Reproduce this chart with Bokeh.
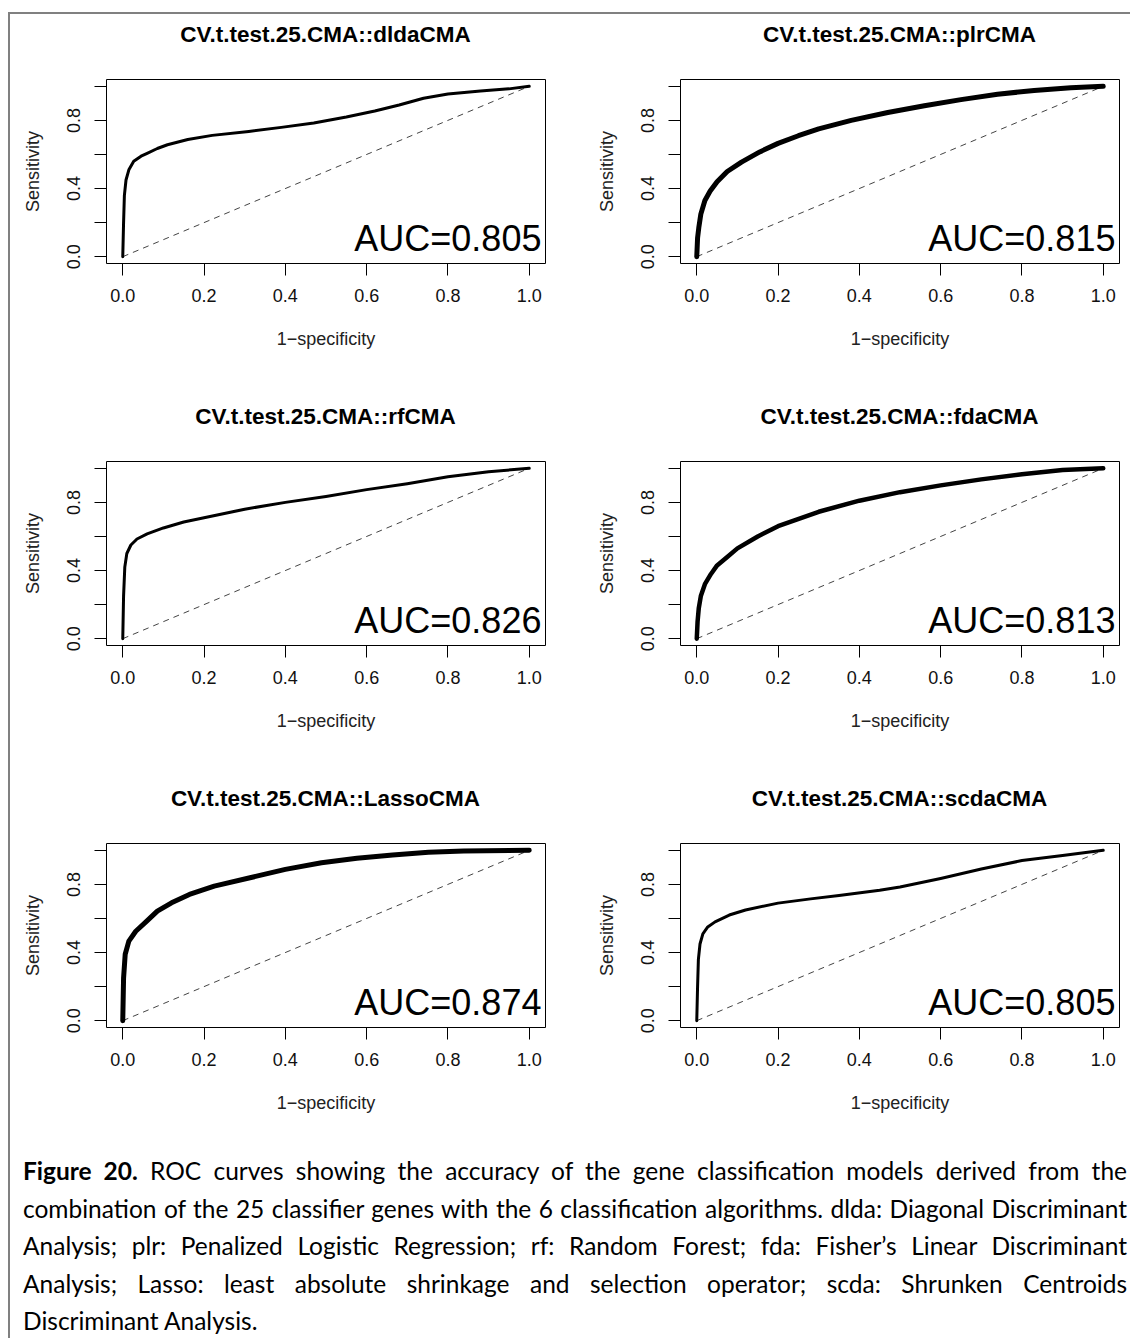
from bokeh.plotting import figure
from bokeh.models import Range1d, FixedTicker, Label, Div, Spacer
from bokeh.layouts import row, column
from bokeh.embed import file_html
from bokeh.resources import INLINE

# ---------------- data ----------------
TITLES = ["CV.t.test.25.CMA::dldaCMA", "CV.t.test.25.CMA::plrCMA",
          "CV.t.test.25.CMA::rfCMA", "CV.t.test.25.CMA::fdaCMA",
          "CV.t.test.25.CMA::LassoCMA", "CV.t.test.25.CMA::scdaCMA"]
AUC = ["AUC=0.805", "AUC=0.815", "AUC=0.826", "AUC=0.813", "AUC=0.874", "AUC=0.805"]

dlda_x = [0, 0.002, 0.004, 0.008, 0.015, 0.027, 0.045, 0.06, 0.085, 0.11, 0.16, 0.22,
          0.31, 0.39, 0.47, 0.55, 0.62, 0.68, 0.74, 0.80, 0.88, 0.95, 1.0]
dlda_y = [0, 0.20, 0.36, 0.45, 0.51, 0.56, 0.59, 0.607, 0.635, 0.657, 0.688, 0.712,
          0.735, 0.759, 0.785, 0.82, 0.855, 0.89, 0.93, 0.955, 0.972, 0.985, 1.0]

plr_x = [0, 0.002, 0.005, 0.01, 0.02, 0.033, 0.05, 0.075, 0.11, 0.155, 0.2, 0.25,
         0.3, 0.38, 0.47, 0.56, 0.65, 0.74, 0.83, 0.92, 1.0]
plr_y = [0, 0.11, 0.17, 0.25, 0.33, 0.385, 0.44, 0.50, 0.555, 0.615, 0.665, 0.71,
         0.75, 0.80, 0.846, 0.886, 0.922, 0.953, 0.976, 0.992, 1.0]

rf_x = [0, 0.002, 0.005, 0.01, 0.02, 0.035, 0.06, 0.1, 0.15, 0.2, 0.3, 0.4, 0.5,
        0.6, 0.7, 0.8, 0.9, 1.0]
rf_y = [0, 0.25, 0.42, 0.5, 0.55, 0.585, 0.615, 0.65, 0.685, 0.71, 0.76, 0.80, 0.835,
        0.875, 0.91, 0.95, 0.98, 1.0]

fda_x = [0, 0.002, 0.005, 0.01, 0.02, 0.035, 0.05, 0.075, 0.1, 0.15, 0.2, 0.3, 0.4,
         0.5, 0.6, 0.7, 0.8, 0.9, 1.0]
fda_y = [0, 0.1, 0.18, 0.25, 0.32, 0.38, 0.43, 0.48, 0.53, 0.6, 0.66, 0.745, 0.81,
         0.86, 0.9, 0.935, 0.965, 0.99, 1.0]

lasso_x = [0, 0.002, 0.006, 0.015, 0.032, 0.059, 0.085, 0.12, 0.164, 0.225, 0.313,
           0.40, 0.489, 0.576, 0.664, 0.752, 0.839, 1.0]
lasso_y = [0, 0.25, 0.39, 0.467, 0.525, 0.584, 0.643, 0.692, 0.741, 0.79, 0.839,
           0.888, 0.927, 0.953, 0.973, 0.988, 0.996, 1.0]

scda_x = [0, 0.002, 0.004, 0.008, 0.015, 0.027, 0.045, 0.08, 0.12, 0.2, 0.28, 0.35,
          0.45, 0.5, 0.6, 0.7, 0.8, 0.9, 1.0]
scda_y = [0, 0.20, 0.36, 0.45, 0.51, 0.55, 0.58, 0.62, 0.65, 0.69, 0.715, 0.735,
          0.765, 0.785, 0.835, 0.89, 0.94, 0.97, 1.0]

diag = [0, 1]

X_TICKS = [0.0, 0.2, 0.4, 0.6, 0.8, 1.0]
X_TICK_LABELS = ["0.0", "0.2", "0.4", "0.6", "0.8", "1.0"]
Y_TICKS = [0.0, 0.2, 0.4, 0.6, 0.8, 1.0]
Y_TICK_LABELS = ["0.0", "", "0.4", "", "0.8", ""]

XLABEL = "1\u2212specificity"
YLABEL = "Sensitivity"

CAPTION_LINES = [
    "<b>Figure 20.</b> ROC curves showing the accuracy of the gene classification models derived from the",
    "combination of the 25 classifier genes with the 6 classification algorithms. dlda: Diagonal Discriminant",
    "Analysis; plr: Penalized Logistic Regression; rf: Random Forest; fda: Fisher\u2019s Linear Discriminant",
    "Analysis; Lasso: least absolute shrinkage and selection operator; scda: Shrunken Centroids",
    "Discriminant Analysis.",
]

CURVES = [(dlda_x, dlda_y), (plr_x, plr_y), (rf_x, rf_y), (fda_x, fda_y),
          (lasso_x, lasso_y), (scda_x, scda_y)]
LINE_W = [3, 5, 3, 4.5, 5, 3]

FONT = "Liberation Sans"
TITLE_H = 42
FRAME_W = 439


def make_panel(i, width, left, right, height, bottom):
    p = figure(width=width, height=height - TITLE_H,
               x_range=Range1d(-0.04, 1.04), y_range=Range1d(-0.04, 1.04),
               output_backend="svg", toolbar_location=None,
               min_border_left=left, min_border_right=right,
               min_border_top=23, min_border_bottom=bottom)
    p.grid.visible = False
    p.outline_line_color = "black"
    p.outline_line_width = 1
    p.outline_line_alpha = 1
    p.background_fill_color = "white"
    p.border_fill_color = "white"

    for ax, ticks, labs in ((p.xaxis[0], X_TICKS, X_TICK_LABELS),
                            (p.yaxis[0], Y_TICKS, Y_TICK_LABELS)):
        ax.ticker = FixedTicker(ticks=ticks, minor_ticks=[])
        ax.major_label_overrides = dict(zip(ticks, labs))
        ax.major_tick_out = 12
        ax.major_tick_in = 0
        ax.major_tick_line_color = "black"
        ax.axis_line_color = None
        ax.major_label_text_font = FONT
        ax.major_label_text_font_size = "18px"
        ax.major_label_text_color = "#111111"
        ax.axis_label_text_font = FONT
        ax.axis_label_text_font_size = "18px"
        ax.axis_label_text_font_style = "normal"
        ax.axis_label_text_color = "#222222"
    p.xaxis.axis_label = XLABEL
    p.yaxis.axis_label = YLABEL
    p.xaxis.major_label_standoff = 13
    p.xaxis.axis_label_standoff = 24
    p.yaxis.major_label_standoff = 14
    p.yaxis.axis_label_standoff = 22
    p.yaxis.major_label_orientation = "vertical"

    p.line(diag, diag, line_color="#444444", line_width=1, line_dash="6 5")
    cx, cy = CURVES[i]
    p.line(cx, cy, line_color="black", line_width=LINE_W[i],
           line_join="round", line_cap="round")

    p.add_layout(Label(x=1.03, y=0.106, text=AUC[i], text_align="right",
                       text_baseline="middle", text_font=FONT,
                       text_font_size="36px", text_color="black"))

    title = Div(text=(f'<div style="width:{FRAME_W}px;margin-left:{left}px;text-align:center;'
                      f'font-family:\'Liberation Sans\';font-weight:bold;font-size:22.5px;'
                      f'line-height:{TITLE_H}px;height:{TITLE_H}px;white-space:nowrap;color:#000;">'
                      f'{TITLES[i]}</div>'),
                width=width, height=TITLE_H, margin=0)
    return column(title, p)


panels = []
for i in range(6):
    h = 382 if i < 4 else 374
    b = 133 if i < 4 else 125
    if i % 2 == 0:
        panels.append(make_panel(i, 557, 96, 22, h, b))
    else:
        panels.append(make_panel(i, 563, 113, 11, h, b))

line_style = ("white-space:nowrap;text-align:justify;text-align-last:justify;"
              "height:37.5px;line-height:37.5px;")
last_style = "white-space:nowrap;text-align:left;height:37.5px;line-height:37.5px;"
html = "".join(
    f'<div style="{line_style if k < len(CAPTION_LINES) - 1 else last_style}">{t}</div>'
    for k, t in enumerate(CAPTION_LINES))
caption = Div(text=f'<div style="width:1104px;font-family:Lato;font-size:24.5px;color:#000;">{html}</div>',
              width=1120, height=186, margin=0,
              styles={"padding-left": "13px", "box-sizing": "border-box"})

GRAY = {"background-color": "#808080"}
content = column(row(panels[0], panels[1]), row(panels[2], panels[3]),
                 row(panels[4], panels[5]), caption)
top = row(Spacer(width=8, height=2), Spacer(width=1122, height=2, styles=GRAY))
body = row(Spacer(width=8, height=1324), Spacer(width=2, height=1324, styles=GRAY), content)
root = column(Spacer(width=1130, height=12), top, body)

open("out.html", "w").write(file_html(root, INLINE))
